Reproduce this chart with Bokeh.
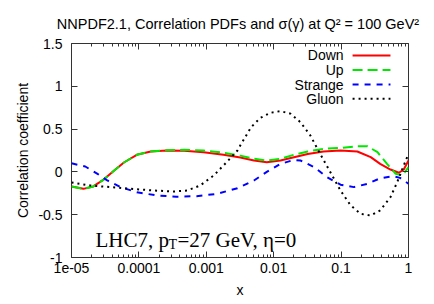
import math
from bokeh.plotting import figure
from bokeh.models import (FixedTicker, CustomJSTickFormatter, LogAxis, LinearAxis,
                          Label, Range1d, Title)
from bokeh.embed import file_html
from bokeh.resources import INLINE

# ---------------- data ----------------
TITLE = "NNPDF2.1,  Correlation PDFs and σ(γ) at Q² = 100 GeV²"
X_TICKS = [1e-5, 1e-4, 1e-3, 1e-2, 1e-1, 1.0]
X_TICK_LABELS = ["1e-05", "0.0001", "0.001", "0.01", "0.1", "1"]
Y_TICKS = [-1.0, -0.5, 0.0, 0.5, 1.0, 1.5]
Y_TICK_LABELS = ["-1", "-0.5", "0", "0.5", "1", "1.5"]

down_x = [1.0e-5, 1.5e-5, 2.1e-5, 3.0e-5, 4.3e-5, 6.0e-5, 9.3e-5, 1.5e-4, 2.6e-4,
          4.7e-4, 9.1e-4, 1.8e-3, 3.2e-3, 5.1e-3, 7.9e-3, 1.26e-2, 2.0e-2, 3.2e-2,
          5.5e-2, 9.8e-2, 0.174, 0.275, 0.38, 0.54, 0.72, 0.85, 1.0]
down_y = [-0.17, -0.198, -0.17, -0.09, 0.016, 0.11, 0.2, 0.238, 0.25,
          0.246, 0.23, 0.2, 0.168, 0.133, 0.113, 0.133, 0.172, 0.21,
          0.238, 0.25, 0.238, 0.172, 0.094, 0.028, -0.01, 0.028, 0.133]

up_x = [1.0e-5, 1.5e-5, 2.1e-5, 3.0e-5, 4.3e-5, 6.0e-5, 9.3e-5, 1.5e-4, 2.6e-4,
        4.7e-4, 9.1e-4, 1.8e-3, 3.2e-3, 5.1e-3, 7.9e-3, 1.26e-2, 2.0e-2, 3.2e-2,
        5.5e-2, 9.8e-2, 0.174, 0.245, 0.347, 0.48, 0.646, 0.81, 1.0]
up_y = [-0.17, -0.198, -0.17, -0.09, 0.016, 0.11, 0.2, 0.238, 0.252,
        0.258, 0.25, 0.225, 0.19, 0.153, 0.133, 0.153, 0.2, 0.238,
        0.27, 0.28, 0.3, 0.3, 0.23, 0.094, -0.022, -0.042, 0.055]

strange_x = [1.0e-5, 1.6e-5, 2.4e-5, 3.4e-5, 5.4e-5, 9.3e-5, 1.86e-4, 3.6e-4, 7.2e-4,
             1.45e-3, 2.9e-3, 5.1e-3, 7.9e-3, 1.26e-2, 2.0e-2, 2.5e-2, 4.0e-2, 6.2e-2,
             9.8e-2, 0.155, 0.245, 0.38, 0.6, 0.75, 1.0]
strange_y = [0.1, 0.063, -0.02, -0.1, -0.18, -0.237, -0.276, -0.29, -0.284,
             -0.256, -0.19, -0.1, 0.0, 0.094, 0.14, 0.133, 0.055, -0.062,
             -0.15, -0.178, -0.139, -0.074, -0.05, -0.07, -0.139]

gluon_x = [1.0e-5, 1.9e-5, 3.8e-5, 7.6e-5, 1.66e-4, 3.3e-4, 5.2e-4, 8.1e-4, 1.29e-3,
           2.0e-3, 2.9e-3, 3.2e-3, 4.6e-3, 6.3e-3, 8.9e-3, 1.26e-2, 1.78e-2, 2.5e-2,
           3.5e-2, 4.9e-2, 6.9e-2, 9.8e-2, 0.138, 0.195, 0.275, 0.38, 0.54, 0.68,
           0.85, 1.0]
gluon_y = [-0.124, -0.159, -0.178, -0.198, -0.217, -0.229, -0.217, -0.159, -0.042,
           0.113, 0.25, 0.31, 0.52, 0.63, 0.69, 0.71, 0.68, 0.58,
           0.425, 0.21, 0.0, -0.217, -0.39, -0.49, -0.51, -0.45, -0.295, -0.12,
           0.075, 0.21]

SERIES = [("Down", down_x, down_y, "#ff0000", "solid"),
          ("Up", up_x, up_y, "#00e800", "10 5"),
          ("Strange", strange_x, strange_y, "#0000ff", "6 6"),
          ("Gluon", gluon_x, gluon_y, "#000000", "2 4")]

# ---------------- figure ----------------
FONT = "Liberation Sans"
p = figure(width=434, height=304, x_axis_type="log",
           x_range=Range1d(1e-5, 1.0), y_range=Range1d(-1.0, 1.5),
           output_backend="svg", toolbar_location=None,
           min_border_left=71, min_border_right=26, min_border_top=43,
           min_border_bottom=47)
p.grid.visible = False
p.outline_line_color = "#333333"
p.outline_line_width = 1

p.title.text = TITLE
p.title.align = "center"
p.title.text_font = FONT
p.title.text_font_size = "14.5px"
p.title.text_font_style = "normal"
p.title.text_color = "#000000"

x_minor = [m * 10.0 ** e for e in range(-5, 0) for m in range(2, 10)]
xticker = FixedTicker(ticks=X_TICKS, minor_ticks=x_minor)
yticker = FixedTicker(ticks=Y_TICKS, minor_ticks=[])

xmap = {str(int(round(math.log10(t)))): l for t, l in zip(X_TICKS, X_TICK_LABELS)}
ymap = {str(int(round(t * 10))): l for t, l in zip(Y_TICKS, Y_TICK_LABELS)}
xfmt = CustomJSTickFormatter(args=dict(m=xmap),
                             code="const v = m[String(Math.round(Math.log10(tick)))]; return v === undefined ? '' : v;")
yfmt = CustomJSTickFormatter(args=dict(m=ymap),
                             code="const v = m[String(Math.round(tick * 10))]; return v === undefined ? '' : v;")
blank = CustomJSTickFormatter(code="return '';")

xa = p.xaxis[0]
xa.ticker = xticker
xa.formatter = xfmt
ya = p.yaxis[0]
ya.ticker = yticker
ya.formatter = yfmt

for ax in (xa, ya):
    ax.axis_line_color = None
    ax.major_tick_in = 6
    ax.major_tick_out = 0
    ax.minor_tick_in = 3
    ax.minor_tick_out = 0
    ax.major_tick_line_color = "#333333"
    ax.minor_tick_line_color = "#333333"
    ax.major_label_text_font = FONT
    ax.major_label_text_font_size = "14px"
    ax.major_label_text_color = "#000000"
    ax.axis_label_text_font = FONT
    ax.axis_label_text_font_size = "14px"
    ax.axis_label_text_font_style = "normal"
    ax.axis_label_text_color = "#000000"

xa.axis_label = "x"
xa.major_label_standoff = 5
xa.axis_label_standoff = 6
ya.axis_label = "Correlation coefficient"
ya.major_label_standoff = 9
ya.axis_label_standoff = 4

# mirrored ticks on top and right
top = LogAxis(ticker=xticker, formatter=blank, axis_line_color=None,
              major_tick_in=6, major_tick_out=0, minor_tick_in=3, minor_tick_out=0,
              major_label_standoff=0, major_tick_line_color="#333333",
              minor_tick_line_color="#333333")
right = LinearAxis(ticker=yticker, formatter=blank, axis_line_color=None,
                   major_tick_in=6, major_tick_out=0, minor_tick_in=0, minor_tick_out=0,
                   major_label_standoff=0, major_tick_line_color="#333333")
p.add_layout(top, "above")
p.add_layout(right, "right")
# small empty spacer above the title to push it down a little
p.add_layout(Title(text=" ", text_font_size="4px", standoff=0), "above")

for name, xs, ys, color, dash in SERIES:
    p.line(xs, ys, line_color=color, line_width=2, line_dash=dash)

# ---------------- manual legend (text left of sample) ----------------
LEG_TEXT_X = 0.109
LEG_LINE_X = (0.148, 0.54)
LEG_Y = [1.36, 1.19, 1.02, 0.855]
for (name, xs, ys, color, dash), ly in zip(SERIES, LEG_Y):
    p.add_layout(Label(x=LEG_TEXT_X, y=ly, text=name, text_align="right",
                       text_baseline="middle", text_font=FONT,
                       text_font_size="14px", text_color="#000000"))
    p.line(list(LEG_LINE_X), [ly, ly], line_color=color, line_width=2, line_dash=dash)

# ---------------- annotation ----------------
ANN_X, ANN_Y = 2.27e-5, -0.79
SERIF = "Liberation Serif"
p.add_layout(Label(x=ANN_X, y=ANN_Y, text="LHC7, p", text_font=SERIF,
                   text_font_size="21px", text_baseline="alphabetic", text_color="#000000"))
p.add_layout(Label(x=ANN_X, y=ANN_Y, x_offset=73, y_offset=-5, text="T", text_font=SERIF,
                   text_font_size="14px", text_baseline="alphabetic", text_color="#000000"))
p.add_layout(Label(x=ANN_X, y=ANN_Y, x_offset=82, text="=27 GeV, η=0", text_font=SERIF,
                   text_font_size="21px", text_baseline="alphabetic", text_color="#000000"))

open("out.html", "w").write(file_html(p, INLINE))
